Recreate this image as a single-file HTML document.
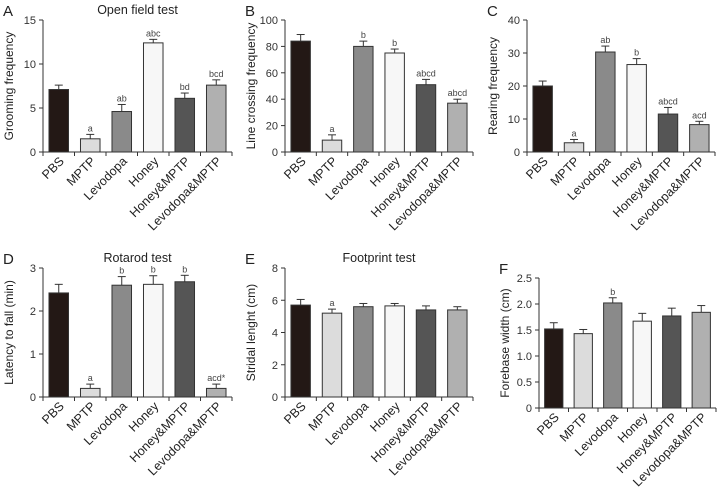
<!DOCTYPE html>
<html><head><meta charset="utf-8"><style>
body{margin:0;background:#fff}
svg{display:block;font-family:"Liberation Sans",Arial,sans-serif}
</style></head><body>
<svg id="c" width="718" height="490"></svg>
<script>
const categories=["PBS","MPTP","Levodopa","Honey","Honey&MPTP","Levodopa&MPTP"];
const colors=["#231815","#dcdcdc","#8a8a8a","#f7f7f7","#555555","#b0b0b0"];
const valsA=[7.1,1.5,4.6,12.4,6.1,7.6], errA=[0.5,0.5,0.8,0.4,0.6,0.6], sigA=["","a","ab","abc","bd","bcd"];
const valsB=[84,9,80,75,51,37], errB=[5,4,4,3,4,3], sigB=["","a","b","b","abcd","abcd"];
const valsC=[20,2.8,30.3,26.5,11.5,8.3], errC=[1.5,1,1.8,1.8,2,1], sigC=["","a","ab","b","abcd","acd"];
const valsD=[2.42,0.2,2.6,2.62,2.68,0.2], errD=[0.2,0.1,0.2,0.2,0.15,0.1], sigD=["","a","b","b","b","acd*"];
const valsE=[5.7,5.2,5.6,5.65,5.4,5.4], errE=[0.35,0.25,0.2,0.15,0.25,0.2], sigE=["","a","","","",""];
const valsF=[1.52,1.43,2.02,1.67,1.77,1.84], errF=[0.12,0.08,0.1,0.15,0.15,0.13], sigF=["","","b","","",""];
const ticksA=[0,5,10,15], ticksB=[0,20,40,60,80,100], ticksC=[0,10,20,30,40], ticksD=[0,1,2,3], ticksE=[0,2,4,6,8], ticksF=[0,0.5,1.0,1.5,2.0,2.5];
const NS="http://www.w3.org/2000/svg", svg=document.getElementById('c');
function el(t,a,p,txt){const e=document.createElementNS(NS,t);for(const k in a)e.setAttribute(k,a[k]);if(txt!==undefined)e.textContent=txt;(p||svg).appendChild(e);return e;}
function panel(id,letter,title,ytitle,x0,x1,yTop,y0,ticks,fmt,vals,errs,sigs){
  const g=el('g',{});
  
  
  const max=ticks[ticks.length-1];
  const ys=v=>y0-(v/max)*(y0-yTop);
  const step=(x1-x0)/categories.length;
  const xs=i=>x0+step*(i+0.5);
  const L=el('text',{x:x0-40,y:yTop-4,'font-size':15,fill:'#222'},g,letter);
  
  if(title){const t=el('text',{x:(x0+x1)/2,y:yTop-6,'font-size':12.5,'text-anchor':'middle',fill:'#222'},g,title);
    }
  const yt=el('text',{x:0,y:0,'font-size':12,'text-anchor':'middle',fill:'#222',transform:`translate(${x0-30},${(yTop+y0)/2}) rotate(-90)`},g,ytitle);
  
  el('line',{x1:x0,y1:yTop,x2:x0,y2:y0,stroke:'#333','stroke-width':1},g);
  el('line',{x1:x0,y1:y0,x2:x1,y2:y0,stroke:'#333','stroke-width':1},g);
  ticks.forEach(t=>{const y=ys(t);el('line',{x1:x0-4,y1:y,x2:x0,y2:y,stroke:'#333'},g);
    const tl=el('text',{x:x0-7,y:y+4,'font-size':11,'text-anchor':'end',fill:'#333'},g,fmt(t));
    });
  for(let i=0;i<=categories.length;i++)el('line',{x1:x0+step*i,y1:y0,x2:x0+step*i,y2:y0+4,stroke:'#333'},g);
  vals.forEach((v,i)=>{const bw=step*0.62,cx=xs(i),y=ys(v),ye=ys(v+errs[i]);
    el('line',{x1:cx,y1:y,x2:cx,y2:ye,stroke:'#333'},g);
    el('line',{x1:cx-4,y1:ye,x2:cx+4,y2:ye,stroke:'#333'},g);
    const r=el('rect',{x:cx-bw/2,y:y,width:bw,height:y0-y,fill:colors[i],stroke:'#333','stroke-width':1},g);
    
    if(sigs[i]){const s=el('text',{x:cx,y:ye-3,'font-size':9,'text-anchor':'middle',fill:'#444'},g,sigs[i]);
      }
    const c=el('text',{x:0,y:0,'font-size':12.5,'text-anchor':'end',fill:'#222',transform:`translate(${cx+6},${y0+10}) rotate(-45)`},g,categories[i]);
    
  });
}
const f0=t=>String(t), f1=t=>t===0?"0":t.toFixed(1);
panel('a','A','Open field test','Grooming frequency',43,232,20,152,ticksA,f0,valsA,errA,sigA);
panel('b','B','','Line crossing frequency',285,473,20,152,ticksB,f0,valsB,errB,sigB);
panel('c','C','','Rearing frequency',527,715,20,152,ticksC,f0,valsC,errC,sigC);
panel('d','D','Rotarod test','Latency to fall (min)',43,232,268,397,ticksD,f0,valsD,errD,sigD);
panel('e','E','Footprint test','Stridal lenght (cm)',285,473,268,397,ticksE,f0,valsE,errE,sigE);
panel('f','F','','Forebase width (cm)',539,716,278,408,ticksF,f1,valsF,errF,sigF);
</script>
</body></html>
